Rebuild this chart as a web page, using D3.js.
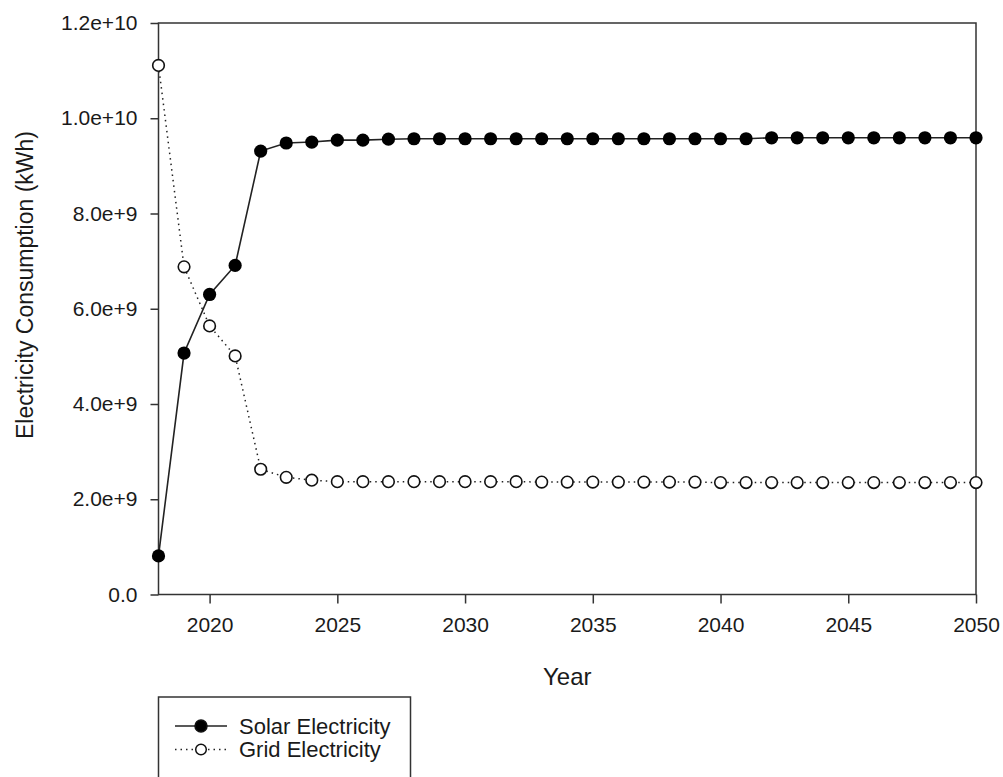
<!DOCTYPE html>
<html>
<head>
<meta charset="utf-8">
<script src="https://cdn.jsdelivr.net/npm/d3@7"></script>
<style>
  body { margin: 0; background: #fff; }
  text { font-family: "Liberation Sans", Arial, sans-serif; fill: #1a1a1a; }
</style>
</head>
<body>
<div class="chart"></div>
<script>
// years 2018..2050
var years = d3.range(2018, 2051);

// Solar electricity (kWh)
var solar = [
  0.81e9, 5.07e9, 6.30e9, 6.91e9, 9.31e9, 9.48e9, 9.50e9, 9.54e9, 9.54e9, 9.56e9,
  9.57e9, 9.57e9, 9.57e9, 9.57e9, 9.57e9, 9.57e9, 9.57e9, 9.57e9, 9.57e9, 9.57e9,
  9.57e9, 9.57e9, 9.57e9, 9.57e9, 9.59e9, 9.59e9, 9.59e9, 9.59e9, 9.59e9, 9.59e9,
  9.59e9, 9.59e9, 9.59e9
];

// Grid electricity (kWh)
var grid = [
  11.11e9, 6.88e9, 5.64e9, 5.01e9, 2.63e9, 2.46e9, 2.40e9, 2.37e9, 2.37e9, 2.37e9,
  2.37e9, 2.37e9, 2.37e9, 2.37e9, 2.37e9, 2.36e9, 2.36e9, 2.36e9, 2.36e9, 2.36e9,
  2.36e9, 2.36e9, 2.35e9, 2.35e9, 2.35e9, 2.35e9, 2.35e9, 2.35e9, 2.35e9, 2.35e9,
  2.35e9, 2.35e9, 2.35e9
];

var xTicks = [2020, 2025, 2030, 2035, 2040, 2045, 2050];
var yTicks = [0, 2e9, 4e9, 6e9, 8e9, 1e10, 1.2e10];
var seriesNames = ["Solar Electricity", "Grid Electricity"];

var W = 1003, H = 777;
var m = { left: 158.5, right: 976, top: 23, bottom: 594.5 };

var svg = d3.select(".chart").append("svg")
  .attr("width", W)
  .attr("height", H);

svg.append("rect").attr("width", W).attr("height", H).attr("fill", "#fff");

var x = d3.scaleLinear().domain([2018, 2050]).range([m.left, m.right]);
var y = d3.scaleLinear().domain([0, 1.2e10]).range([m.bottom, m.top]);

var fmtY = function (d) {
  return d === 0 ? "0.0" : d3.format(".1e")(d);
};

// axes
var xAxis = svg.append("g")
  .attr("transform", "translate(0," + m.bottom + ")")
  .call(d3.axisBottom(x).tickValues(xTicks).tickFormat(d3.format("d"))
    .tickSize(9).tickSizeOuter(0).tickPadding(14));

var yAxis = svg.append("g")
  .attr("transform", "translate(" + m.left + ",0)")
  .call(d3.axisLeft(y).tickValues(yTicks).tickFormat(fmtY)
    .tickSize(8).tickSizeOuter(0).tickPadding(13));

[xAxis, yAxis].forEach(function (g) {
  g.select(".domain").remove();
  g.selectAll("line").attr("stroke", "#333").attr("stroke-width", 1.5);
  g.selectAll("text").attr("font-size", 21)
    .attr("font-family", "Liberation Sans, Arial, sans-serif")
    .attr("fill", "#1a1a1a");
});

// frame
svg.append("rect")
  .attr("x", m.left).attr("y", m.top)
  .attr("width", m.right - m.left).attr("height", m.bottom - m.top)
  .attr("fill", "none").attr("stroke", "#333").attr("stroke-width", 1.5);

// titles
svg.append("text")
  .attr("x", (m.left + m.right) / 2).attr("y", 685)
  .attr("text-anchor", "middle").attr("font-size", 24)
  .text("Year");

svg.append("text")
  .attr("transform", "translate(25," + 285 + ") rotate(-90)")
  .attr("text-anchor", "middle").attr("dy", "0.36em").attr("font-size", 23)
  .text("Electricity Consumption (kWh)");

var line = d3.line()
  .x(function (d, i) { return x(years[i]); })
  .y(function (d) { return y(d); });

// grid line (dotted)
svg.append("path")
  .datum(grid)
  .attr("fill", "none").attr("stroke", "#222")
  .attr("stroke-width", 1.5).attr("stroke-dasharray", "1.5,4")
  .attr("d", line);

// solar line
svg.append("path")
  .datum(solar)
  .attr("fill", "none").attr("stroke", "#222")
  .attr("stroke-width", 1.6)
  .attr("d", line);

svg.append("g").selectAll("circle")
  .data(grid).enter().append("circle")
  .attr("cx", function (d, i) { return x(years[i]); })
  .attr("cy", function (d) { return y(d); })
  .attr("r", 5.8)
  .attr("fill", "#fff").attr("stroke", "#111").attr("stroke-width", 1.6);

svg.append("g").selectAll("circle")
  .data(solar).enter().append("circle")
  .attr("cx", function (d, i) { return x(years[i]); })
  .attr("cy", function (d) { return y(d); })
  .attr("r", 6.6)
  .attr("fill", "#000");

// legend
var lg = svg.append("g");
lg.append("rect")
  .attr("x", 158.5).attr("y", 697)
  .attr("width", 252).attr("height", 110)
  .attr("fill", "#fff").attr("stroke", "#333").attr("stroke-width", 1.5);

var rows = lg.selectAll(".row")
  .data(seriesNames).enter().append("g")
  .attr("transform", function (d, i) { return "translate(0," + (726 + i * 23.5) + ")"; });

rows.append("line")
  .attr("x1", 175).attr("x2", 227).attr("y1", 0).attr("y2", 0)
  .attr("stroke", "#222").attr("stroke-width", 1.5)
  .attr("stroke-dasharray", function (d, i) { return i === 0 ? null : "1.5,4"; });

rows.append("circle")
  .attr("cx", 201).attr("cy", 0)
  .attr("r", function (d, i) { return i === 0 ? 6 : 5.3; })
  .attr("fill", function (d, i) { return i === 0 ? "#000" : "#fff"; })
  .attr("stroke", "#111").attr("stroke-width", 1.5);

rows.append("text")
  .attr("x", 239).attr("dy", "0.36em")
  .attr("font-size", 22)
  .text(function (d) { return d; });
</script>
</body>
</html>
